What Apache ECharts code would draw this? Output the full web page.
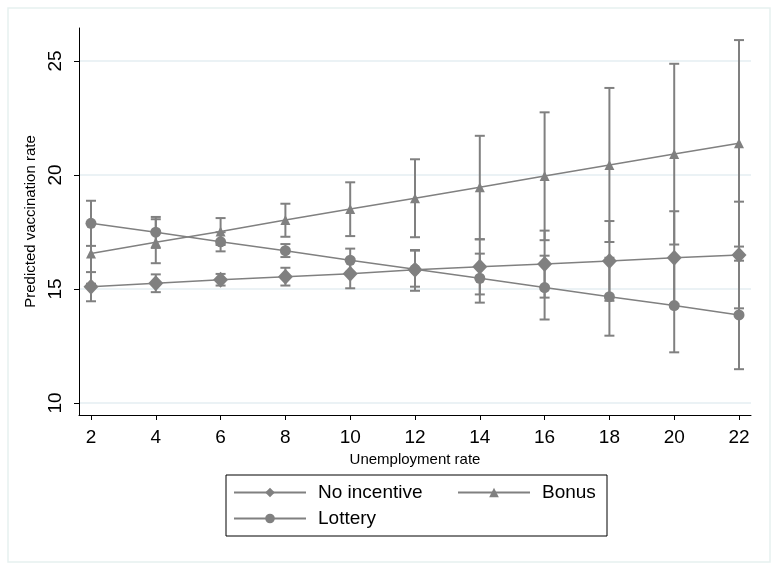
<!DOCTYPE html>
<html>
<head>
<meta charset="utf-8">
<script src="https://cdn.jsdelivr.net/npm/echarts@6/dist/echarts.min.js"></script>
<style>
  html, body { margin: 0; padding: 0; background: #fff; }
  #chart { width: 778px; height: 572px; }
</style>
</head>
<body>
<div id="chart"></div>
<script>
// unemployment rate (x)
const unemployment = [2, 4, 6, 8, 10, 12, 14, 16, 18, 20, 22];
const yTicks = [10, 15, 20, 25];

// predicted vaccination rate + 95% CI
const noIncentive   = [15.10, 15.25, 15.40, 15.54, 15.67, 15.84, 15.98, 16.10, 16.23, 16.37, 16.49];
const noIncentiveLo = [14.46, 14.86, 15.15, 15.15, 15.03, 14.92, 14.76, 14.62, 14.48, 14.33, 14.15];
const noIncentiveHi = [15.74, 15.64, 15.66, 15.93, 16.31, 16.71, 17.18, 17.56, 17.98, 18.41, 18.83];

const bonus   = [16.56, 17.05, 17.52, 18.03, 18.51, 18.98, 19.46, 19.96, 20.44, 20.92, 21.39];
const bonusLo = [15.23, 16.13, 16.93, 17.29, 17.32, 17.27, 17.18, 17.14, 17.06, 16.95, 16.86];
const bonusHi = [17.89, 18.06, 18.11, 18.74, 19.68, 20.69, 21.72, 22.75, 23.82, 24.88, 25.92];

const lottery   = [17.88, 17.49, 17.07, 16.68, 16.26, 15.86, 15.47, 15.06, 14.66, 14.27, 13.86];
const lotteryLo = [16.89, 16.80, 16.65, 16.40, 15.75, 15.10, 14.40, 13.66, 12.95, 12.22, 11.48];
const lotteryHi = [18.87, 18.16, 17.49, 16.97, 16.77, 16.68, 16.55, 16.46, 16.37, 16.32, 16.24];

const grey = '#808080';
const font = 'Liberation Sans, Arial, sans-serif';

function pairs(ys) {
    return unemployment.map((x, i) => [x, ys[i]]);
}
function ciData(lo, hi) {
    return unemployment.map((x, i) => [x, lo[i], hi[i]]);
}
function renderCI(params, api) {
    const x = api.value(0);
    const pLo = api.coord([x, api.value(1)]);
    const pHi = api.coord([x, api.value(2)]);
    const cap = 5;
    const st = { stroke: grey, lineWidth: 2 };
    return {
        type: 'group',
        children: [
            { type: 'line', shape: { x1: pLo[0], y1: pLo[1], x2: pHi[0], y2: pHi[1] }, style: st },
            { type: 'line', shape: { x1: pLo[0] - cap, y1: pLo[1], x2: pLo[0] + cap, y2: pLo[1] }, style: st },
            { type: 'line', shape: { x1: pHi[0] - cap, y1: pHi[1], x2: pHi[0] + cap, y2: pHi[1] }, style: st }
        ]
    };
}
function ciSeries(lo, hi) {
    return {
        type: 'custom',
        renderItem: renderCI,
        data: ciData(lo, hi),
        encode: { x: 0, y: [1, 2] },
        silent: true,
        z: 1
    };
}
function lineSeries(name, ys, symbol, size) {
    return {
        name: name,
        type: 'line',
        data: pairs(ys),
        symbol: symbol,
        symbolSize: size,
        showAllSymbol: true,
        itemStyle: { color: grey },
        lineStyle: { color: grey, width: 1.5 },
        z: 3
    };
}

const chart = echarts.init(document.getElementById('chart'));
chart.setOption({
    animation: false,
    backgroundColor: '#fff',
    textStyle: { fontFamily: font },
    graphic: [{
        type: 'rect',
        shape: { x: 8, y: 8, width: 762, height: 554 },
        style: { fill: 'none', stroke: '#e6f1f0', lineWidth: 1.5 },
        z: -1
    }],
    grid: { left: 79, right: 27, top: 28, bottom: 157 },
    legend: {
        data: ['No incentive', 'Bonus', 'Lottery'],
        left: 226,
        top: 475,
        width: 370,
        orient: 'horizontal',
        padding: [8, 7, 8, 7],
        itemGap: 7,
        itemWidth: 72,
        itemHeight: 12,
        borderColor: '#000',
        borderWidth: 1,
        borderRadius: 0,
        formatter: function (name) {
            return (name === 'Bonus' ? '{b|' : '{a|') + name + '}';
        },
        textStyle: {
            color: '#000',
            fontSize: 19,
            fontFamily: font,
            rich: {
                a: { fontSize: 19, fontFamily: font, color: '#000', width: 132, lineHeight: 21, padding: [0, 0, 0, 7] },
                b: { fontSize: 19, fontFamily: font, color: '#000', width: 58, lineHeight: 21, padding: [0, 0, 0, 7] }
            }
        }
    },
    xAxis: {
        type: 'value',
        min: 1.63,
        max: 22.37,
        name: 'Unemployment rate',
        nameLocation: 'middle',
        nameGap: 32,
        nameTextStyle: { color: '#000', fontSize: 15, fontFamily: font },
        axisLine: { show: true, onZero: false, lineStyle: { color: '#000', width: 1 } },
        axisTick: { show: true, length: 5, customValues: unemployment, lineStyle: { color: '#000' } },
        axisLabel: { customValues: unemployment, color: '#000', fontSize: 19, margin: 13, fontFamily: font },
        splitLine: { show: false }
    },
    yAxis: {
        type: 'value',
        min: 9.47,
        max: 26.45,
        name: 'Predicted vaccination rate',
        nameLocation: 'middle',
        nameRotate: 90,
        nameGap: 27,
        nameTextStyle: { color: '#000', fontSize: 15, fontFamily: font },
        axisLine: { show: true, onZero: false, lineStyle: { color: '#000', width: 1 } },
        axisTick: { show: true, length: 5, customValues: yTicks, lineStyle: { color: '#000' } },
        axisLabel: { customValues: yTicks, rotate: 90, color: '#000', fontSize: 19, margin: 14, fontFamily: font },
        splitLine: { show: true, lineStyle: { color: '#e4eef2', width: 1.5 } }
    },
    series: [
        ciSeries(noIncentiveLo, noIncentiveHi),
        ciSeries(bonusLo, bonusHi),
        ciSeries(lotteryLo, lotteryHi),
        lineSeries('No incentive', noIncentive, 'diamond', [15, 16]),
        lineSeries('Bonus', bonus, 'triangle', 10),
        lineSeries('Lottery', lottery, 'circle', 11)
    ]
});
</script>
</body>
</html>
